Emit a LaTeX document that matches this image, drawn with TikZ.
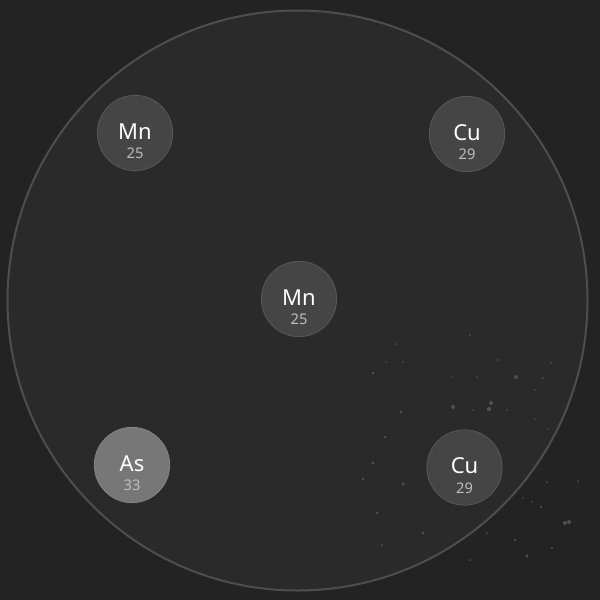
\documentclass[tikz,border=0pt]{standalone}
\usepackage{fontspec}
\setmainfont{Noto Sans}
\usepackage{xcolor}
\definecolor{bgdark}{HTML}{232323}
\definecolor{discfill}{HTML}{2A2A2A}
\definecolor{discline}{HTML}{4E4E4E}
\definecolor{elemfill}{HTML}{454545}
\definecolor{elemlight}{HTML}{777777}
\definecolor{numgray}{HTML}{BDBDBD}
\definecolor{dustgray}{HTML}{505050}

\tikzset{
  elem/.style={circle,minimum size=56.5pt,inner sep=0pt,fill=elemfill,draw=elemfill!90!white,line width=0.6pt},
  sym/.style={text=white,font=\fontsize{16.5}{16.5}\selectfont,inner sep=0pt},
  num/.style={text=numgray,font=\fontsize{11}{11}\selectfont,inner sep=0pt},
}

\begin{document}
\begin{tikzpicture}[x=0.75pt,y=-0.75pt]
\fill[bgdark] (0,0) rectangle (600,600);
\useasboundingbox (0,0) rectangle (600,600);
% big disc
\filldraw[fill=discfill,draw=discline,line width=1.5pt] (297.5,300.5) circle (290);
% dust in the lower right
\foreach \x/\y/\r in {470/335/1.2,396/344/1,498/360/1,551/363/1,403/362/0.8,386/362/0.8,
  373/373/1.4,516/377/2,543/378/1.2,477/377/0.8,452/377/0.8,535/390/0.8,491/403/2,
  489/409/2.2,453/407/2,473/410/0.8,507/410/0.8,401/412/1.6,535/419/0.8,548/429/0.8,
  385/437/1.4,373/463/1.6,363/479/1.4,403/484/1.6,547/482/1,578/481/1,523/498/0.8,
  532/502/0.8,541/507/1.2,377/513/1.4,565/523/2,569/522/2,423/533/1.6,487/533/1,
  515/540/1.4,527/556/1.6,382/545/1,470/560/1,552/548/1.2}
  \fill[dustgray] (\x,\y) circle (\r);
% elements
\node[elem] (mnA) at (135,133) {};
\node[elem] (cuA) at (467,134) {};
\node[elem] (mnB) at (299,299) {};
\node[elem,fill=elemlight,draw=elemlight!90!white] (asA) at (132,465) {};
\node[elem] (cuB) at (464.5,467.5) {};
\foreach \n/\s/\z in {mnA/Mn/25,cuA/Cu/29,mnB/Mn/25,asA/As/33,cuB/Cu/29}{
  \node[sym] at ([yshift=1.2pt]\n.center) {\s};
  \node[num] at ([yshift=-15.5pt]\n.center) {\z};
}
\end{tikzpicture}
\end{document}
